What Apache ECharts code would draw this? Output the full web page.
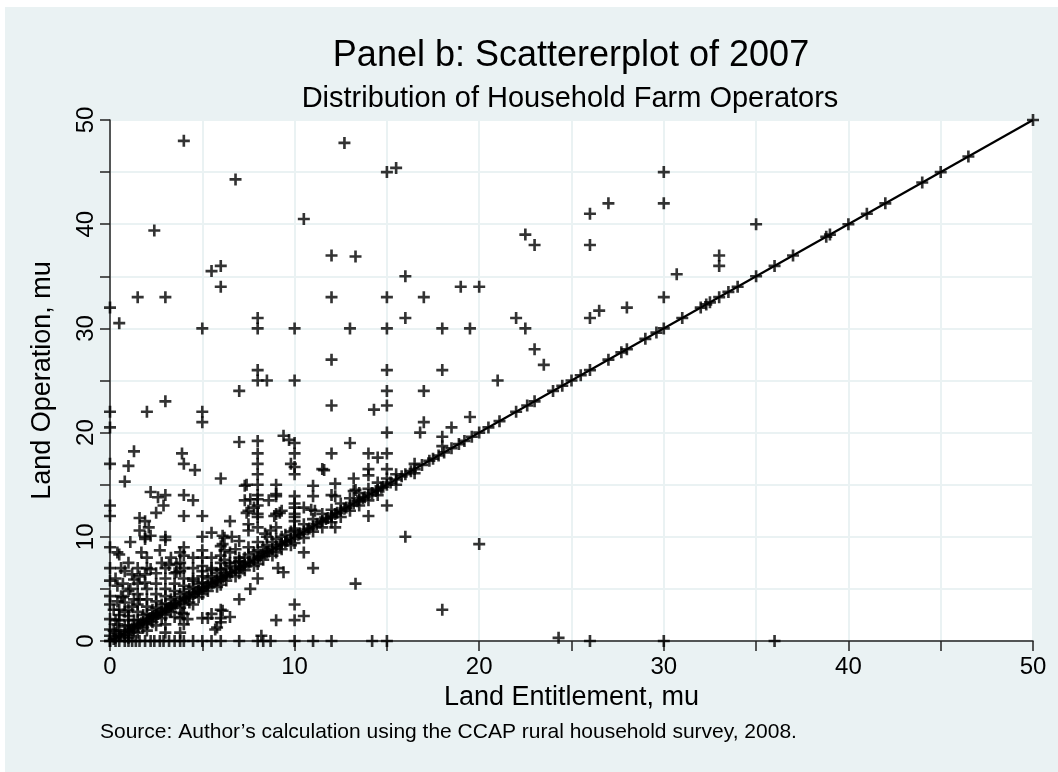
<!DOCTYPE html>
<html>
<head>
<meta charset="utf-8">
<style>
html,body{margin:0;padding:0;background:#fff;}
#chart{width:1058px;height:772px;}
</style>
<script src="https://cdn.jsdelivr.net/npm/echarts@6/dist/echarts.min.js"></script>
</head>
<body>
<div id="chart"></div>
<script>
// households whose operated land equals entitlement (on the 45 degree line)
var onLine = [0,0.2,0.3,0.5,0.6,0.8,1,1.1,1.2,1.3,1.5,1.6,1.7,1.8,2,2.1,2.2,2.3,2.4,2.5,2.6,2.7,2.8,3,3.1,3.2,3.3,3.4,3.5,3.6,3.8,
  4,4.1,4.2,4.3,4.5,4.6,4.7,4.8,5,5.1,5.2,5.3,5.5,5.6,5.7,5.8,6,6.1,6.2,6.3,6.5,6.6,6.8,7,7.1,7.2,7.3,7.5,7.6,7.8,
  8,8.1,8.2,8.4,8.5,8.6,8.8,9,9.2,9.3,9.5,9.6,9.8,10,10.2,10.3,10.5,10.7,10.8,11,11.2,11.4,11.5,11.7,11.8,12,12.2,12.3,
  12.5,12.7,12.8,13,13.2,13.4,13.5,13.7,13.8,14,14.2,14.4,14.5,14.7,14.8,15,15.2,15.5,15.8,16,16.3,16.5,16.9,17.3,17.5,
  17.8,18.1,18.5,18.9,19.2,19.6,20,20.5,21.1,22,22.6,23,24,24.5,25,25.5,26,27,27.7,28,29,29.6,30,31,32,32.3,32.5,33,33.5,
  34,35,36,37,38.8,39,40,41,42,44,45,46.5,50];

// operated more than entitled: [entitlement, operation]
var rentedIn = [[0,32],[0.5,30.5],[4,48],[12.7,47.8],[15,45],[15.5,45.4],[6.8,44.3],[10.5,40.5],[2.4,39.4],[12,37],[13.3,36.9],
  [5.5,35.5],[6,36],[6,34],[16,35],[1.5,33],[3,33],[12,33],[15,33],[5,30],[8,31],[8,30],[10,30],[13,30],[15,30],[16,31],
  [12,27],[15,26],[8,26],[8,25],[8.5,25],[10,25],
  [30,45],[30,42],[27,42],[26,41],[26,38],[22.5,39],[23,38],[33,37],[33,36],[19,34],[20,34],[17,33],[18,30],[19.5,30],
  [22,31],[22.5,30],[23,28],[23.5,26.5],[18,26],[21,25],[26,31],[26.5,31.7],[28,32],[30,33],[30.7,35.2],[35,40],[17,24],
  [17,21],[16.8,20],[18,19.6],[18,18.7],[18.5,20.5],[19.5,21.5],
  [15,24],[15,22.6],[7,24],[3,23],[0,22],[2,22],[5,22],[5,21],[12,22.6],[14.3,22.2],[0,20.5],[15,20],[7,19.1],[8,19.2],
  [8,18],[8,17],[8,16],[8,15],[9.4,19.7],[9.7,19.3],[10,19],[10,18],[10,16.7],[9.8,17],[10,16],[12,18],[13,19],[14,18],
  [14.5,17.6],[15,18],[14,16.5],[15,16.5],[14,15.9],
  [0,17],[1,16.8],[0.8,15.3],[1.3,18.2],[3.9,18],[4,17],[4.6,16.4],[6,15.6],[2.2,14.3],[2.6,13.8],[3,14],[2.9,13],
  [2.5,12.3],[4,14],[4.5,13.5],[0,13],[0,12],[4,12],[5,12],[1.6,11.8],[1.9,11.5],[1.6,10.6],[2.1,10.9],[1.9,10],[3,10],
  [6.5,11.5],[7.4,15],[9,15],[7.6,13.6],[8,13.6],[8.6,13.5],[9,13.9],[7.4,12.3],[7.8,12.8],[8,11.9],[8.9,12],[9.2,12.3],
  [10,13.9],[10,12.8],[10,11.9],[10.5,12.8],[10.9,12.6],[11,14.9],[11,13.9],[11.6,16.4],[12.2,15.1],[12.2,13.9],
  [13.2,15.6],[13.3,14.5],[7.5,12.5],[8,14],[8,13],[8,12.2],[9,14.1],[9,12.2],[9.3,12.5],[10,13.2],[10,12.2],[10,11.5],
  [11.1,12.5],[12,14],[13.2,14.4],[7.5,11.2],[7.5,10.6],[8,10.9],[8.4,10.3],[8.7,10.6],[9,10.9],[10,10.6],[7.3,14.9],
  [7.3,13.5],[11.5,16.5],
  [0,9],[0.4,8.5],[0,7],[0,5.8],[0,4.3],[0,3.5],[0.4,3.8],[0,2.1],[0.4,1.6],[0.8,6.7],[0.7,5.5],[0.7,4.2],[1,4.8],
  [1.5,5.5],[1.1,9.5],[1.9,9.8],[3,9.7],[0.5,8.3],[2,8],[2,7],[2.8,7.5],[3.3,8],[3.6,7.4],[3.6,6.6],[4,9],[4,8.2],[5,8],
  [5,7.2],[6,9.1],[6,8.2],[6.2,8.7],[6.8,8.8],[7,8],[0,1.1],[0.4,5.3],[0.6,4.3],[0.8,3.7],[1.1,5],[1.3,4],[1.2,6.4],
  [1.6,6.2],[1.9,5.6],[1,2.4],[2.2,6.9],[1.9,6.4],[1.3,5.9],[5,10],[5.5,10.4],[6.1,10.1],[6.1,9.3],[6.6,10],[7,9.6],
  [6.2,9.9],[6.2,7.8],[5,8.7],[5,6.7],[3.8,8.5],[3.8,7.5],[3.8,6.7],[2.2,10.1],
  [4.5,6],[5.5,7],[6.5,7.5],[7.5,9],[8,9.5],[8.5,10],[3,5],[3.5,5.5],[4,6],[2.5,4.5],[2,4],[1.5,3.5],[1,3],[2.5,5.5],
  [3,6],[4.5,7],[5.5,8],[6,6.9],[7,7.6],
  [0.5,1],[1,1.5],[1.5,2],[2,2.6],[2.5,3.2],[3,3.6],[3.5,4.2],[4,4.7],[4.5,5.2],[5,5.6],[5.5,6.2],[6,6.8],[6.5,7.2],
  [7,7.7],[7.5,8.3],[8,8.7],[8.5,9.2],[9,9.8],[9.5,10.2],[10,10.8],[11,11.7],[12,12.6],[13,13.7],[14,14.6],[15,15.6],
  [0.3,0.8],[0.8,1.4],[1.3,2],[1.8,2.5],[2.3,3],[2.8,3.5],[3.3,4],[3.8,4.5],[4.3,5],[4.8,5.5],[5.3,6],[5.8,6.5],[6.3,7],
  [6.8,7.5],[7.3,8],[7.8,8.5],[8.3,9],[8.8,9.5],[9.3,10],[9.8,10.5],[10.5,11.2],[11.5,12.2],[12.5,13.2],[13.5,14.2],
  [14.5,15.2],[15.5,16],[16.5,17],[0.5,2],[0.5,3],[1,2],[1.5,2.8],[1.5,4.5],[2,3.3],[2,5],[2.5,3.8],[3,4.3],[3,7],
  [3.5,4.8],[3.5,6.5],[4,5.3],[4,7],[4.5,5.8],[4.5,8],[5,6.2],[5.5,6.8],[6,7.5],[6.5,8.5],[0,0.5],[0.2,1],[0.3,2],
  [0.2,3],[0.5,2.5],[0.8,2.8],[1.2,3.3],[1.6,4],[0.3,6],[0.6,7],[1,7.5],[1.5,7],[1.7,8.5],[2.5,6.5],[2.7,8.7],[3.2,7.3]];

// operated less than entitled (but more than zero)
var rentedOut = [[16,10],[20,9.3],[18,3],[24.3,0.3],[14,12],[15,13],[13.3,5.5],[12,11.9],[12.2,10.9],[10.5,8.5],[11,7],
  [9.1,7],[9.4,6.6],[8,6],[7.6,5],[7,4],[10,3.5],[10,2],[10.5,2.4],[9,2],[6,3],[6,2.2],[6.5,2.3],[5.8,1.3],[5.3,2.2],
  [5,2.2],[4,2.6],[4,1.6],[3.8,2.2],[3.9,2.7],[4.2,2.1],[5.5,2.6],[6.1,2.9],[6,1.8],[5.7,1.1],[3,1.6],[3,0.8],[3.8,0.8],
  [8.2,0.5],
  [1,0.6],[2,1.6],[3,2.5],[4,3.5],[5,4.5],[6,5.4],[7,6.5],[8,7.4],[9,8.5],[10,9.4],[11,10.5],[12,11.4],[13,12.5],
  [14,13.5],[1.5,0.8],[2.5,1.5],[3.5,2.3],[4.5,3.5],[2,1],[1,0.3],
  [0.8,0.4],[1.3,0.9],[1.8,1.3],[2.3,1.8],[2.8,2.2],[3.3,2.8],[3.8,3.2],[4.3,3.7],[4.8,4.2],[5.3,4.8],[5.8,5.2],
  [6.3,5.8],[6.8,6.2],[7.3,6.8],[7.8,7.2],[8.3,7.8],[8.8,8.2],[9.3,8.8],[9.8,9.2],[10.5,9.9],[11.5,10.9],[12.5,11.9],
  [13.5,13],[14.5,14],[15.5,15],[16.5,16.1]];

// entitled households operating no land
var zeroOp = [0,0.3,0.5,0.8,1,1.2,1.4,1.6,1.9,2.2,2.4,2.7,2.9,3.2,3.5,3.8,4,4.5,5,5.5,6,7,8,8.3,8.7,10,11,12,14.2,15,26,30,36];

var lineEnds = [0, 50];
var xTicks = [0, 10, 20, 30, 40, 50];

var plusMark = 'path://M3.9,0H6.1V3.9H10V6.1H6.1V10H3.9V6.1H0V3.9H3.9Z';
var font = '"Liberation Sans", Arial, sans-serif';
var bg = '#eaf2f3';

var pts = [];
onLine.forEach(function (v) { pts.push([v, v]); });
rentedIn.forEach(function (p) { pts.push(p); });
rentedOut.forEach(function (p) { pts.push(p); });
zeroOp.forEach(function (v) { pts.push([v, 0]); });

function tickFmt(v) { return xTicks.indexOf(v) >= 0 ? String(v) : ''; }

var chart = echarts.init(document.getElementById('chart'));
chart.setOption({
  backgroundColor: 'transparent',
  animation: false,
  graphic: [
    { type: 'rect', z: -10, shape: { x: 5, y: 7, width: 1053, height: 765 }, style: { fill: bg } },
    { type: 'text', x: 571, y: 56, style: { text: 'Panel b: Scattererplot of 2007', font: '36px ' + font, fill: '#000', align: 'center', verticalAlign: 'middle' } },
    { type: 'text', x: 570, y: 99, style: { text: 'Distribution of Household Farm Operators', font: '29px ' + font, fill: '#000', align: 'center', verticalAlign: 'middle' } },
    { type: 'text', x: 100, y: 732, style: { text: 'Source: Author\u2019s calculation using the CCAP rural household survey, 2008.', font: '21px ' + font, fill: '#000', align: 'left', verticalAlign: 'middle' } }
  ],
  grid: { left: 110, right: 25, top: 120, bottom: 131, show: true, backgroundColor: '#fff', borderWidth: 0 },
  xAxis: {
    type: 'value', min: 0, max: 50, interval: 5,
    name: 'Land Entitlement, mu', nameLocation: 'middle', nameGap: 40,
    nameTextStyle: { fontSize: 27, color: '#000', fontFamily: font },
    axisLine: { lineStyle: { color: '#222', width: 1.5 } },
    axisTick: { length: 10, lineStyle: { color: '#222', width: 1.5 } },
    axisLabel: { formatter: tickFmt, fontSize: 24, color: '#000', fontFamily: font, margin: 14 },
    splitLine: { lineStyle: { color: bg, width: 2 } }
  },
  yAxis: {
    type: 'value', min: 0, max: 50, interval: 5,
    name: 'Land Operation, mu', nameLocation: 'middle', nameGap: 54,
    nameTextStyle: { fontSize: 27, color: '#000', fontFamily: font },
    axisLine: { show: true, lineStyle: { color: '#222', width: 1.5 } },
    axisTick: { show: true, length: 10, lineStyle: { color: '#222', width: 1.5 } },
    axisLabel: { formatter: tickFmt, rotate: 90, fontSize: 24, color: '#000', fontFamily: font, margin: 12 },
    splitLine: { lineStyle: { color: bg, width: 2 } }
  },
  series: [
    {
      type: 'line', data: [[lineEnds[0], lineEnds[0]], [lineEnds[1], lineEnds[1]]],
      symbol: 'none', lineStyle: { color: '#000', width: 2.2 }, z: 2
    },
    {
      type: 'scatter', data: pts, symbol: plusMark, symbolSize: 12,
      itemStyle: { color: '#000' }, z: 3
    }
  ]
});
</script>
</body>
</html>
